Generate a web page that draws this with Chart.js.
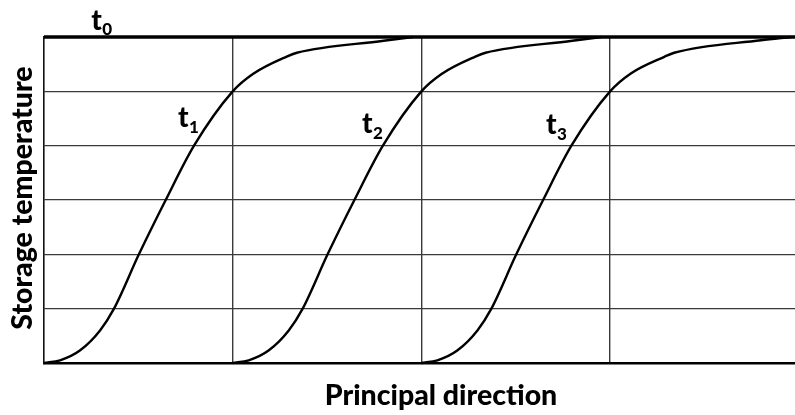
<!DOCTYPE html>
<html>
<head>
<meta charset="utf-8">
<script src="https://cdn.jsdelivr.net/npm/chart.js@4/dist/chart.umd.min.js"></script>
<style>
  html, body { margin:0; padding:0; background:#fff; }
  #wrap { width:795px; height:415px; }
</style>
</head>
<body>
<div id="wrap"><canvas id="chart" width="795" height="415"></canvas></div>
<script>
// ── DATA ─────────────────────────────────────────────────────────
// x in grid columns (principal direction), y in grid rows (temperature)
const posX0  = [0, 3.98];
const tempY0 = [6, 6];

const posX1  = [0, 0.085, 0.19, 0.297, 0.371, 0.503, 0.645, 0.795, 1.0, 1.107, 1.286, 1.34, 1.8, 1.955];
const tempY1 = [0, 0.05, 0.23, 0.6, 1, 2, 3, 4, 5, 5.32, 5.64, 5.71, 5.93, 6];

const posX2  = [1, 1.085, 1.19, 1.297, 1.371, 1.503, 1.645, 1.796, 2.0, 2.107, 2.286, 2.34, 2.8, 2.955];
const tempY2 = [0, 0.05, 0.23, 0.6, 1, 2, 3, 4, 5, 5.32, 5.64, 5.71, 5.93, 6];

const posX3  = [2, 2.085, 2.19, 2.297, 2.371, 2.503, 2.645, 2.795, 3.0, 3.11, 3.29, 3.34, 3.8, 3.96];
const tempY3 = [0, 0.05, 0.23, 0.6, 1, 2, 3, 4, 5, 5.33, 5.64, 5.71, 5.94, 6];

const curveNames = ['0', '1', '2', '3'];
// label anchors (data units): left of the "t", baseline
const labelX = [0.25, 0.71, 1.685, 2.66];
const labelY = [6.13, 4.34, 4.23, 4.21];

const xTitle = 'Principal direction';
const yTitle = 'Storage temperature';

// ── BUILD ────────────────────────────────────────────────────────
const pts = (xs, ys) => xs.map((x, i) => ({ x, y: ys[i] }));
const curve = (label, xs, ys, w) => ({
  label, data: pts(xs, ys), borderColor:'#000', borderWidth:w,
  pointRadius:0, fill:false, clip:false,
  cubicInterpolationMode:'monotone'
});

const labelsPlugin = {
  id:'labels',
  afterDraw(chart) {
    const { ctx, scales:{ x, y } } = chart;
    ctx.save();
    ctx.fillStyle = '#000';
    ctx.textBaseline = 'alphabetic';
    curveNames.forEach((n, i) => {
      const px = x.getPixelForValue(labelX[i]), py = y.getPixelForValue(labelY[i]);
      ctx.font = '900 28px Lato';
      ctx.textAlign = 'left';
      ctx.fillText('t', px, py);
      const w = ctx.measureText('t').width;
      ctx.font = '900 17px Lato';
      ctx.fillText(n, px + w + 0.5, py + 5.5);
    });
    // axis titles
    ctx.font = '900 28.5px Lato';
    ctx.textAlign = 'center';
    ctx.fillText(xTitle, 441, 405);
    ctx.translate(32, 198);
    ctx.rotate(-Math.PI / 2);
    ctx.fillText(yTitle, 0, 0);
    ctx.restore();
  }
};

const gridCol = c => Number.isInteger(c.tick.value) ? '#3a3a3a' : 'rgba(0,0,0,0)';

new Chart(document.getElementById('chart'), {
  type:'scatter',
  data:{ datasets:[
    curve('t0', posX0, tempY0, 3.6),
    curve('t1', posX1, tempY1, 2.4),
    curve('t2', posX2, tempY2, 2.4),
    curve('t3', posX3, tempY3, 2.4)
  ]},
  options:{
    responsive:false, animation:false, showLine:true,
    layout:{ padding:{ left:44, top:37, right:0, bottom:52 } },
    plugins:{ legend:{ display:false }, tooltip:{ enabled:false } },
    scales:{
      x:{ type:'linear', min:0, max:3.98,
          ticks:{ display:false, stepSize:1 },
          grid:{ color:gridCol, lineWidth:1.4, drawTicks:false },
          border:{ display:true, color:'#000', width:2.6 } },
      y:{ type:'linear', min:0, max:6,
          ticks:{ display:false, stepSize:1 },
          grid:{ color:gridCol, lineWidth:1.3, drawTicks:false },
          border:{ display:true, color:'#111', width:1.4 } }
    }
  },
  plugins:[labelsPlugin]
});
</script>
</body>
</html>
